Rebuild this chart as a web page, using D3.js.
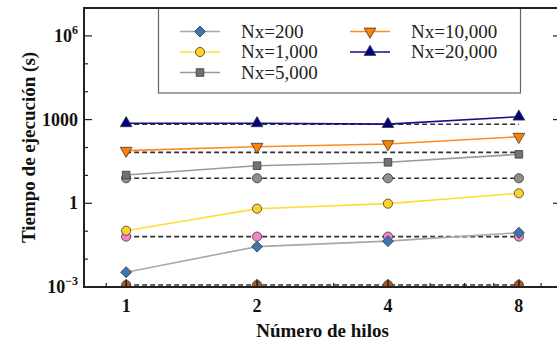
<!DOCTYPE html>
<html><head><meta charset="utf-8">
<script src="https://cdn.jsdelivr.net/npm/d3@7"></script>
<style>body{margin:0;background:#fff}svg{display:block}
text{font-family:"Liberation Serif","Tinos","Times New Roman","DejaVu Serif",serif;}
</style>
</head><body>
<script>
const threads = [1, 2, 4, 8];
const seriesLabels = ["Nx=200", "Nx=1,000", "Nx=5,000", "Nx=10,000", "Nx=20,000"];
const nx200 = [0.0034, 0.028, 0.044, 0.088];
const nx1000 = [0.104, 0.64, 0.97, 2.28];
const nx5000 = [10.3, 22.3, 29.5, 57];
const nx10000 = [77, 107, 133, 244];
const nx20000 = [736, 736, 690, 1270];
// ideal (constant) reference values
const ref200 = [0.00118, 0.00118, 0.00118, 0.00118];
const ref1000 = [0.064, 0.064, 0.064, 0.064];
const ref5000 = [7.9, 7.9, 7.9, 7.9];
const ref10000 = [67, 67, 67, 67];
const ref20000 = [680, 680, 680, 680];
const yTickMajor = [1e-3, 1, 1e3, 1e6];
const yTickMinor = [1e-2, 1e-1, 10, 100, 1e4, 1e5];
const xTickMajor = [1, 2, 4, 8];
const xTickMinor = [0.9, 3, 5, 6, 7, 9];

const W = 557, H = 343;
const m = {l: 84, r: 561, t: 8, b: 287};
const svg = d3.select("body").append("svg").attr("width", W).attr("height", H);
const x = d3.scaleLog().domain([0.8, 10]).range([m.l, m.r]);
const y = d3.scaleLog().domain([1e-3, 1e7]).range([m.b, m.t]);

svg.append("defs").append("clipPath").attr("id", "clip")
  .append("rect").attr("x", m.l).attr("y", m.t).attr("width", m.r - m.l).attr("height", m.b - m.t);
const plot = svg.append("g").attr("clip-path", "url(#clip)");

const line = d3.line().x((d, i) => x(threads[i])).y(d => y(d));

const refs = [
  {v: ref200, marker: "circle", fill: "#b4521c"},
  {v: ref1000, marker: "circle", fill: "#f285c6"},
  {v: ref5000, marker: "circle", fill: "#8e8e8e"},
  {v: ref10000, marker: null},
  {v: ref20000, marker: null}
];
const series = [
  {v: nx200, label: seriesLabels[0], line: "#a8a8a8", fill: "#3777b5", marker: "diamond"},
  {v: nx1000, label: seriesLabels[1], line: "#ffdc3a", fill: "#fcd22a", marker: "circle"},
  {v: nx5000, label: seriesLabels[2], line: "#9a9a9a", fill: "#727272", marker: "square"},
  {v: nx10000, label: seriesLabels[3], line: "#ff8a1f", fill: "#ff7f00", marker: "tridown"},
  {v: nx20000, label: seriesLabels[4], line: "#10108a", fill: "#000080", marker: "triup"}
];

function drawMarker(g, type, cx, cy, fill) {
  const st = "#3a3a3a";
  if (type === "circle") {
    g.append("circle").attr("cx", cx).attr("cy", cy).attr("r", 4.6).attr("fill", fill).attr("stroke", st).attr("stroke-width", 0.8);
  } else if (type === "diamond") {
    g.append("path").attr("d", d3.symbol(d3.symbolSquare, 60)()).attr("transform", `translate(${cx},${cy}) rotate(45)`)
      .attr("fill", fill).attr("stroke", st).attr("stroke-width", 0.8);
  } else if (type === "square") {
    g.append("path").attr("d", d3.symbol(d3.symbolSquare, 58)()).attr("transform", `translate(${cx},${cy})`)
      .attr("fill", fill).attr("stroke", st).attr("stroke-width", 0.8);
  } else if (type === "triup") {
    g.append("path").attr("d", d3.symbol(d3.symbolTriangle, 60)()).attr("transform", `translate(${cx},${cy})`)
      .attr("fill", fill).attr("stroke", st).attr("stroke-width", 0.8);
  } else if (type === "tridown") {
    g.append("path").attr("d", d3.symbol(d3.symbolTriangle, 60)()).attr("transform", `translate(${cx},${cy}) rotate(180)`)
      .attr("fill", fill).attr("stroke", st).attr("stroke-width", 0.8);
  }
}

// reference dashed lines
refs.forEach(r => {
  plot.append("path").attr("d", line(r.v)).attr("fill", "none")
    .attr("stroke", "#333").attr("stroke-width", 1.6).attr("stroke-dasharray", "5,3");
});
refs.forEach((r, k) => {
  if (!r.marker) return;
  r.v.forEach((v, i) => {
    drawMarker(plot, r.marker, x(threads[i]), y(v), r.fill);
    if (k === 0) plot.append("line").attr("x1", x(threads[i])).attr("x2", x(threads[i]))
      .attr("y1", y(v) - 4).attr("y2", y(v) + 4).attr("stroke", "#3a1a08").attr("stroke-width", 1);
  });
});
// series
series.forEach(s => {
  plot.append("path").attr("d", line(s.v)).attr("fill", "none").attr("stroke", s.line).attr("stroke-width", 1.6);
});
series.forEach(s => {
  s.v.forEach((v, i) => drawMarker(plot, s.marker, x(threads[i]), y(v), s.fill));
});

// frame
svg.append("rect").attr("x", m.l).attr("y", m.t).attr("width", m.r - m.l).attr("height", m.b - m.t)
  .attr("fill", "none").attr("stroke", "#222").attr("stroke-width", 2);

// ticks (inward)
const tk = svg.append("g").attr("stroke", "#222").attr("stroke-width", 1.2);
yTickMajor.forEach(v => {
  tk.append("line").attr("x1", m.l).attr("x2", m.l + 8).attr("y1", y(v)).attr("y2", y(v));
  tk.append("line").attr("x1", m.r).attr("x2", m.r - 8).attr("y1", y(v)).attr("y2", y(v));
});
yTickMinor.forEach(v => {
  tk.append("line").attr("x1", m.l).attr("x2", m.l + 4).attr("y1", y(v)).attr("y2", y(v));
  tk.append("line").attr("x1", m.r).attr("x2", m.r - 4).attr("y1", y(v)).attr("y2", y(v));
});
xTickMajor.forEach(v => {
  tk.append("line").attr("x1", x(v)).attr("x2", x(v)).attr("y1", m.b).attr("y2", m.b - 8);
});
xTickMinor.forEach(v => {
  tk.append("line").attr("x1", x(v)).attr("x2", x(v)).attr("y1", m.b).attr("y2", m.b - 4);
});

// y tick labels
const yLab = svg.append("g").attr("font-weight", "bold").attr("font-size", 18).attr("fill", "#111");
const yLabels = [{base: "10", sup: "\u22123"}, {base: "1", sup: null}, {base: "1000", sup: null}, {base: "10", sup: "6"}];
yTickMajor.forEach((v, i) => {
  const t = yLab.append("text").attr("x", 78).attr("y", y(v) + 6).attr("text-anchor", "end");
  t.append("tspan").text(yLabels[i].base);
  if (yLabels[i].sup) t.append("tspan").attr("dy", -8).attr("font-size", 12).text(yLabels[i].sup);
});
// x tick labels
const xLab = svg.append("g").attr("font-weight", "bold").attr("font-size", 18).attr("fill", "#111");
xTickMajor.forEach(v => {
  xLab.append("text").attr("x", x(v)).attr("y", 312).attr("text-anchor", "middle").text(v);
});
// axis titles
svg.append("text").attr("x", (m.l + m.r) / 2).attr("y", 337).attr("text-anchor", "middle")
  .attr("font-weight", "bold").attr("font-size", 19).attr("fill", "#111")
  .text("Número de hilos");
svg.append("text").attr("transform", `translate(35,${(m.t + m.b) / 2}) rotate(-90)`).attr("text-anchor", "middle")
  .attr("font-weight", "bold").attr("font-size", 19).attr("fill", "#111")
  .text("Tiempo de ejecución (s)");

// legend
const lg = svg.append("g");
lg.append("rect").attr("x", 158.5).attr("y", 8).attr("width", 362).attr("height", 85)
  .attr("fill", "#fff").attr("stroke", "#666").attr("stroke-width", 1.2);
svg.append("line").attr("x1", m.l).attr("x2", m.r).attr("y1", m.t).attr("y2", m.t).attr("stroke", "#222").attr("stroke-width", 2);
const legPos = [[180, 31.5], [180, 52], [180, 72.5], [350, 31.5], [350, 52]];
series.forEach((s, i) => {
  const [lx, ly] = legPos[i];
  lg.append("line").attr("x1", lx).attr("x2", lx + 40).attr("y1", ly).attr("y2", ly).attr("stroke", s.line).attr("stroke-width", 1.6);
  drawMarker(lg, s.marker, lx + 20, ly, s.fill);
  lg.append("text").attr("x", lx + 61).attr("y", ly + 6).attr("font-size", 19)
    .attr("fill", "#222").text(s.label);
});
</script>
</body></html>
